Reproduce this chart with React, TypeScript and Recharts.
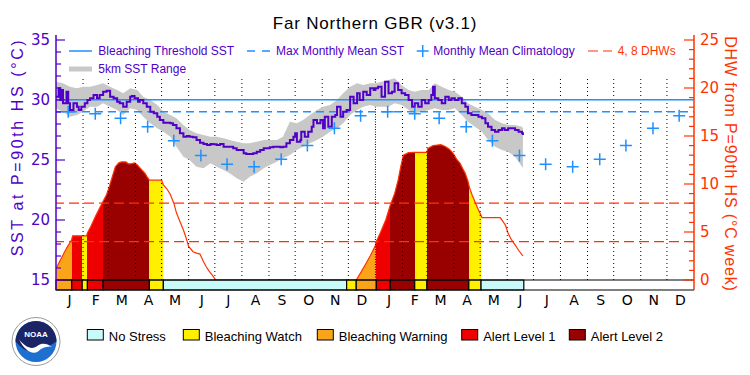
import React from 'react';
import { ComposedChart, Line, Area, Scatter, XAxis, YAxis, ReferenceLine, ReferenceArea } from 'recharts';

if (typeof document !== 'undefined') {
  document.body.style.margin = '0';
}

const PURPLE = '#5000C8';
const BLUE = '#1E90FF';
const ORANGE_RED = '#FF3300';
const GRAY = '#C8C8C8';
const STATUS_COLORS = ['#C8FAFA', '#FFF000', '#FAA519', '#EE0000', '#990000'];
const STATUS_NAMES = ['No Stress', 'Bleaching Watch', 'Bleaching Warning', 'Alert Level 1', 'Alert Level 2'];

// day index 0 = 1 Jan 2024
const monthStarts = [0, 31, 60, 91, 121, 152, 182, 213, 244, 274, 305, 335, 366, 397, 425, 456, 486, 517, 547, 578, 609, 639, 670, 700, 731];
const monthLabels = ['J', 'F', 'M', 'A', 'M', 'J', 'J', 'A', 'S', 'O', 'N', 'D'];
const yearLabels = ['2024', '2025'];
const yearStarts = [0, 366, 731];

const climatologyMonthly = [29.03, 28.86, 28.47, 27.78, 26.6, 25.38, 24.64, 24.44, 25.06, 26.21, 27.64, 28.69];
const MMM = 29.03;
const BLEACHING_THRESHOLD = 30.03;
const dhwLevels = [4, 8];

const sstDays = [0, 3, 5, 7, 8, 12, 14, 16, 20, 24, 26, 29, 33, 36, 39, 43, 47, 50, 54, 58, 62, 66, 70, 73, 77, 81, 85, 87, 90, 94, 96, 100, 104, 108, 112, 116, 119, 123, 127, 131, 134, 138, 142, 146, 150, 153, 157, 161, 165, 169, 173, 177, 180, 184, 188, 192, 196, 199, 203, 207, 211, 215, 218, 222, 226, 230, 234, 238, 241, 245, 249, 253, 257, 260, 264, 268, 272, 274, 276, 280, 281, 285, 289, 293, 295, 299, 303, 306, 308, 312, 316, 320, 322, 326, 329, 333, 337, 341, 345, 348, 352, 356, 360, 364, 366, 369, 373, 377, 381, 385, 388, 392, 396, 400, 404, 408, 411, 415, 419, 423, 427, 430, 432, 434, 438, 442, 446, 450, 453, 457, 461, 465, 469, 472, 476, 480, 484, 488, 492, 495, 499, 503, 507, 511, 514, 518, 522, 526, 530, 534, 535];
const sstValues = [30.28, 30.97, 30.0, 30.83, 29.72, 30.69, 29.72, 29.17, 29.72, 29.44, 29.17, 29.44, 29.72, 30.0, 30.14, 30.42, 30.14, 30.42, 30.69, 30.78, 30.28, 30.14, 29.86, 29.72, 29.44, 29.86, 30.28, 30.33, 30.14, 29.86, 30.0, 29.72, 29.44, 29.03, 28.89, 28.61, 28.33, 28.11, 28.11, 28.06, 27.92, 27.64, 27.22, 26.94, 27.0, 26.94, 26.89, 26.67, 26.44, 26.33, 26.25, 26.33, 26.31, 26.25, 26.33, 26.11, 26.11, 26.11, 25.97, 25.83, 25.83, 25.56, 25.5, 25.5, 25.56, 25.69, 25.83, 25.97, 25.97, 26.06, 26.11, 26.11, 26.06, 26.11, 26.39, 26.67, 26.94, 27.22, 26.53, 26.67, 27.36, 26.94, 27.36, 27.78, 28.33, 28.06, 28.33, 27.64, 28.61, 27.78, 28.61, 28.75, 29.44, 28.61, 29.03, 29.17, 30.28, 29.72, 30.56, 30.0, 30.69, 30.42, 30.97, 30.83, 30.97, 31.11, 30.28, 31.53, 30.56, 30.69, 31.39, 30.83, 30.56, 30.42, 30.0, 29.44, 29.72, 29.44, 30.0, 29.72, 30.0, 30.42, 31.11, 30.14, 30.0, 29.72, 30.28, 30.0, 30.14, 30.0, 30.14, 29.72, 29.44, 28.89, 28.75, 28.75, 28.61, 28.47, 28.06, 27.78, 27.5, 27.36, 27.5, 27.64, 27.5, 27.64, 27.64, 27.5, 27.36, 27.22, 27.08];

const rangeDays = [0, 8, 16, 24, 31, 39, 47, 54, 62, 70, 77, 85, 93, 100, 108, 116, 123, 131, 138, 146, 153, 161, 169, 177, 184, 192, 199, 207, 215, 222, 230, 238, 245, 253, 260, 268, 276, 283, 291, 299, 306, 314, 322, 329, 337, 345, 352, 360, 366, 373, 381, 388, 396, 404, 411, 419, 427, 434, 442, 450, 457, 465, 472, 480, 488, 495, 503, 511, 518, 526, 534, 535];
const rangeHigh = [31.53, 31.39, 31.11, 30.97, 31.11, 31.11, 31.25, 31.39, 31.11, 30.83, 30.56, 30.97, 30.83, 30.28, 30.0, 29.58, 29.03, 28.75, 28.47, 27.92, 27.5, 27.22, 27.08, 26.94, 26.94, 26.81, 26.67, 26.53, 26.39, 26.39, 26.53, 26.67, 26.67, 26.67, 26.94, 28.19, 28.06, 28.33, 28.75, 29.17, 29.44, 29.58, 30.0, 30.56, 31.11, 31.39, 31.25, 31.39, 31.39, 31.53, 31.67, 31.81, 31.25, 30.83, 30.69, 30.83, 30.83, 31.39, 31.11, 30.83, 30.69, 30.28, 29.72, 29.44, 29.17, 28.89, 28.33, 28.06, 27.92, 27.92, 27.78, 27.64];
const rangeLow = [29.31, 29.03, 28.61, 28.75, 29.03, 29.44, 29.44, 29.72, 29.44, 29.17, 28.75, 29.31, 29.17, 28.61, 28.06, 27.64, 27.36, 26.94, 26.11, 25.28, 25.0, 24.44, 24.31, 24.72, 24.44, 24.17, 23.89, 23.47, 23.19, 23.61, 23.89, 24.31, 24.58, 24.86, 25.14, 25.42, 25.83, 26.11, 26.39, 26.67, 26.94, 27.36, 27.64, 28.06, 28.75, 29.17, 29.44, 29.58, 29.44, 29.44, 29.44, 29.72, 29.58, 29.17, 28.89, 29.03, 29.17, 29.31, 29.17, 29.17, 29.31, 28.75, 28.19, 27.78, 27.36, 26.67, 26.11, 25.83, 25.69, 25.28, 24.44, 24.31];

const dhwDays = [0, 4, 8, 12, 16, 18, 19, 35, 36, 40, 45, 50, 54, 58, 61, 64, 68, 72, 75, 80, 83, 86, 90, 93, 98, 102, 104, 107, 115, 121, 123, 127, 131, 135, 138, 142, 146, 149, 152, 157, 161, 165, 169, 172, 175, 179, 183, 344, 350, 355, 360, 366, 367, 372, 378, 383, 388, 392, 395, 398, 404, 411, 425, 426, 432, 437, 441, 446, 451, 455, 459, 463, 466, 469, 472, 474, 477, 480, 483, 486, 488, 509, 512, 515, 518, 522, 526, 530, 535];
const dhwValues = [1.2, 1.9, 2.6, 3.3, 3.9, 4.2, 4.6, 4.6, 4.9, 5.6, 6.6, 7.5, 8.2, 8.9, 9.7, 10.6, 11.8, 12.2, 12.3, 12.3, 12.1, 12.1, 12.2, 12.0, 11.5, 11.1, 10.8, 10.4, 10.4, 10.4, 9.9, 9.5, 8.9, 8.0, 7.0, 6.1, 5.2, 4.4, 3.5, 2.95, 2.8, 2.7, 1.9, 1.4, 0.97, 0.5, 0, 0, 0.9, 1.7, 2.5, 3.6, 4.0, 5.0, 6.3, 7.8, 9.0, 10.4, 11.8, 13.0, 13.26, 13.3, 13.3, 13.7, 14.0, 14.06, 14.1, 13.9, 13.6, 13.2, 12.6, 12.15, 11.6, 11.1, 10.3, 9.55, 8.8, 8.15, 7.5, 6.94, 6.5, 6.5, 6.1, 5.7, 4.86, 4.17, 3.65, 3.1, 2.5];

// alert status segments (0 no stress, 1 watch, 2 warning, 3 alert 1, 4 alert 2)
const statusStarts = [0, 18, 30, 36, 54, 107, 123, 333, 344, 367, 383, 411, 425, 473, 487];
const statusEnds = [18, 30, 36, 54, 107, 123, 333, 344, 367, 383, 411, 425, 473, 487, 536];
const statusLevels = [2, 3, 1, 3, 4, 1, 0, 1, 2, 3, 4, 1, 4, 1, 0];

const SST_DOMAIN: [number, number] = [14.1667, 35.4167];
const DHW_DOMAIN: [number, number] = [-1.0417, 25.5208];
const GRID_TOP_SST = 31.83;
const sstTicks = Array.from({ length: 21 }, (_, i) => 15 + i);
const dhwTicks = Array.from({ length: 26 }, (_, i) => i);

const monthMids = monthStarts.slice(0, -1).map((s, i) => (s + monthStarts[i + 1]) / 2);
const yearMids = yearStarts.slice(0, -1).map((s, i) => (s + yearStarts[i + 1]) / 2);
const gridDays = monthStarts.slice(1, -1);

const sstData = sstDays.map((d, i) => ({ day: d, v: sstValues[i] }));
const rangeData = rangeDays.map((d, i) => ({ day: d, r: [rangeLow[i], rangeHigh[i]] }));
const dhwData = dhwDays.map((d, i) => ({ day: d, v: dhwValues[i] }));
const climData = monthStarts.slice(0, -1).map((s, i) => ({ day: s + 14, v: climatologyMonthly[i % 12] }));

const dhwFirst = dhwDays[0];
const dhwLast = dhwDays[dhwDays.length - 1];
const gradStops: { off: number; color: string; op: number }[] = [];
statusStarts.forEach((s, i) => {
  const lv = statusLevels[i];
  const a = Math.max(0, Math.min(1, (s - dhwFirst) / (dhwLast - dhwFirst)));
  const b = Math.max(0, Math.min(1, (statusEnds[i] - dhwFirst) / (dhwLast - dhwFirst)));
  const op = lv === 0 ? 0 : 1;
  gradStops.push({ off: a, color: STATUS_COLORS[lv], op });
  gradStops.push({ off: b, color: STATUS_COLORS[lv], op });
});

const NUM_FONT = 'DejaVu Sans';
const TXT_FONT = 'Liberation Sans';
const TICK_GAP = 6;

const LeftTick = (p: any) => {
  const v = p.payload.value;
  const ax = p.x + TICK_GAP;
  const major = v % 5 === 0;
  return (
    <g>
      <line x1={ax} x2={ax + (major ? 9 : 5)} y1={p.y} y2={p.y} stroke={PURPLE} strokeWidth={1.2} />
      {major && (
        <text x={p.x} y={p.y} dy="0.36em" textAnchor="end" fill={PURPLE} fontSize={15} fontFamily={NUM_FONT}>
          {v}
        </text>
      )}
    </g>
  );
};

const RightTick = (p: any) => {
  const v = p.payload.value;
  const ax = p.x - TICK_GAP;
  const major = v % 5 === 0;
  return (
    <g>
      <line x1={ax - (major ? 10 : 5)} x2={ax} y1={p.y} y2={p.y} stroke={ORANGE_RED} strokeWidth={1.2} />
      {major && (
        <text x={p.x} y={p.y} dy="0.36em" textAnchor="start" fill={ORANGE_RED} fontSize={15} fontFamily={NUM_FONT}>
          {v}
        </text>
      )}
    </g>
  );
};

const PlusShape = (p: any) => {
  const { cx, cy } = p;
  if (cx == null || cy == null) return <g />;
  return <path d={`M${cx - 6},${cy}H${cx + 6}M${cx},${cy - 6}V${cy + 6}`} stroke={BLUE} strokeWidth={1.5} fill="none" />;
};

const legendBoxX = [87.3, 183.3, 317.3, 461.7, 569.3];
const legendOrder = [0, 1, 2, 3, 4];

export default function App() {
  return (
    <div style={{ position: 'relative', width: 750, height: 375, background: '#fff', overflow: 'hidden' }}>
      <svg width={0} height={0} style={{ position: 'absolute' }}>
        <defs>
          <linearGradient id="dhwFill" x1="0" y1="0" x2="1" y2="0">
            {gradStops.map((g, i) => (
              <stop key={i} offset={g.off} stopColor={g.color} stopOpacity={g.op} />
            ))}
          </linearGradient>
        </defs>
      </svg>
      <ComposedChart width={750} height={375} margin={{ top: 35, right: 0, bottom: 47, left: 0 }}>
        <XAxis
          dataKey="day"
          type="number"
          domain={[0, 731]}
          allowDataOverflow
          ticks={monthMids}
          interval={0}
          tickFormatter={(v: number) => monthLabels[monthMids.indexOf(v) % 12]}
          tickLine={false}
          tickSize={0}
          tickMargin={5}
          height={16}
          axisLine={{ stroke: '#000', strokeWidth: 1.2 }}
          tick={{ fill: '#000', fontSize: 14, fontFamily: NUM_FONT }}
        />
        <XAxis
          xAxisId="year"
          type="number"
          domain={[0, 731]}
          allowDataOverflow
          ticks={yearMids}
          interval={0}
          tickFormatter={(v: number) => yearLabels[yearMids.indexOf(v)]}
          tickLine={false}
          axisLine={false}
          tickSize={0}
          tickMargin={5}
          height={22}
          tick={{ fill: '#000', fontSize: 14, fontFamily: NUM_FONT }}
        />
        <XAxis
          xAxisId="top"
          orientation="top"
          type="number"
          domain={[0, 731]}
          allowDataOverflow
          height={0}
          tick={false}
          tickLine={false}
          axisLine={{ stroke: '#000', strokeWidth: 1.2 }}
        />
        <YAxis
          yAxisId="sst"
          orientation="left"
          type="number"
          width={56}
          domain={SST_DOMAIN}
          allowDataOverflow
          ticks={sstTicks}
          interval={0}
          tickSize={0}
          tickMargin={TICK_GAP}
          tickLine={false}
          axisLine={{ stroke: PURPLE, strokeWidth: 1.5 }}
          tick={(p: any) => <LeftTick {...p} />}
        />
        <YAxis
          yAxisId="dhw"
          orientation="right"
          type="number"
          width={56}
          domain={DHW_DOMAIN}
          allowDataOverflow
          ticks={dhwTicks}
          interval={0}
          tickSize={0}
          tickMargin={TICK_GAP}
          tickLine={false}
          axisLine={{ stroke: ORANGE_RED, strokeWidth: 1.5 }}
          tick={(p: any) => <RightTick {...p} />}
        />

        <Area
          yAxisId="dhw"
          data={dhwData}
          dataKey="v"
          type="linear"
          baseValue={0}
          stroke={ORANGE_RED}
          strokeWidth={1.2}
          fill="url(#dhwFill)"
          fillOpacity={1}
          dot={false}
          activeDot={false}
          isAnimationActive={false}
          zIndex={100}
        />
        {statusStarts.map((s, i) => (
          <ReferenceArea
            key={`st${i}`}
            yAxisId="dhw"
            x1={s}
            x2={statusEnds[i]}
            y1={DHW_DOMAIN[0]}
            y2={0}
            fill={STATUS_COLORS[statusLevels[i]]}
            fillOpacity={1}
            stroke="#000"
            strokeWidth={1.2}
            zIndex={105}
          />
        ))}
        {gridDays.map((d) => (
          <ReferenceLine
            key={`g${d}`}
            yAxisId="sst"
            segment={[{ x: d, y: 15 }, { x: d, y: GRID_TOP_SST }]}
            stroke="#000"
            strokeWidth={1}
            strokeDasharray={d === 366 ? '1 1.5' : '1 3'}
            zIndex={110}
          />
        ))}
        <Area
          yAxisId="sst"
          data={rangeData}
          dataKey="r"
          type="linear"
          stroke="none"
          fill={GRAY}
          fillOpacity={1}
          dot={false}
          activeDot={false}
          isAnimationActive={false}
          zIndex={120}
        />
        <ReferenceLine yAxisId="sst" y={BLEACHING_THRESHOLD} stroke={BLUE} strokeWidth={1.5} zIndex={130} />
        <ReferenceLine yAxisId="sst" y={MMM} stroke={BLUE} strokeWidth={1.5} strokeDasharray="8 5" zIndex={130} />
        {dhwLevels.map((l) => (
          <ReferenceLine key={`d${l}`} yAxisId="dhw" y={l} stroke={ORANGE_RED} strokeWidth={1.2} strokeDasharray="10 5" zIndex={130} />
        ))}
        <ReferenceLine yAxisId="dhw" y={0} stroke="#000" strokeWidth={1.2} zIndex={130} />
        <Line
          yAxisId="sst"
          data={sstData}
          dataKey="v"
          type="stepAfter"
          stroke={PURPLE}
          strokeWidth={2}
          dot={false}
          activeDot={false}
          isAnimationActive={false}
          zIndex={400}
        />
        <Scatter yAxisId="sst" data={climData} dataKey="v" shape={PlusShape} isAnimationActive={false} zIndex={600} />
      </ComposedChart>

      <svg width={750} height={375} style={{ position: 'absolute', left: 0, top: 0, pointerEvents: 'none' }}>
        <text x={375} y={29} textAnchor="middle" fontSize={17} letterSpacing={0.8} fontFamily={TXT_FONT} fill="#000">
          Far Northern GBR (v3.1)
        </text>
        <text transform="translate(22.5,147) rotate(-90)" textAnchor="middle" fontSize={16} letterSpacing={2.6} fontFamily={TXT_FONT} fill={PURPLE}>
          SST at P=90th HS (°C)
        </text>
        <text transform="translate(725,164) rotate(90)" textAnchor="middle" fontSize={16} letterSpacing={0.85} fontFamily={TXT_FONT} fill={ORANGE_RED}>
          DHW from P=90th HS (°C week)
        </text>

        {/* top legend */}
        <line x1={69} x2={92} y1={51} y2={51} stroke={BLUE} strokeWidth={1.5} />
        <text x={98.3} y={55} fontSize={12} fontFamily={TXT_FONT} fill={PURPLE}>Bleaching Threshold SST</text>
        <line x1={247} x2={270} y1={51} y2={51} stroke={BLUE} strokeWidth={1.5} strokeDasharray="8 7" />
        <text x={276} y={55} fontSize={12} fontFamily={TXT_FONT} fill={PURPLE}>Max Monthly Mean SST</text>
        <path d="M416.7,51H428.7M422.7,45V57" stroke={BLUE} strokeWidth={1.5} fill="none" />
        <text x={433.3} y={55} fontSize={12} fontFamily={TXT_FONT} fill={PURPLE}>Monthly Mean Climatology</text>
        <line x1={588} x2={612} y1={51} y2={51} stroke={ORANGE_RED} strokeWidth={1.2} strokeDasharray="10 5" />
        <text x={617.7} y={55} fontSize={12} fontFamily={TXT_FONT} fill={ORANGE_RED}>4, 8 DHWs</text>
        <line x1={69} x2={92} y1={69} y2={69} stroke={GRAY} strokeWidth={5} />
        <text x={98.3} y={73} fontSize={12} fontFamily={TXT_FONT} fill={PURPLE}>5km SST Range</text>

        {/* bottom legend */}
        {legendOrder.map((lv, i) => (
          <g key={`lg${lv}`}>
            <rect x={legendBoxX[i]} y={329.5} width={16} height={10.5} fill={STATUS_COLORS[lv]} stroke="#000" strokeWidth={1} />
            <text x={legendBoxX[i] + 21.5} y={340.5} fontSize={13} fontFamily={TXT_FONT} fill="#000">{STATUS_NAMES[lv]}</text>
          </g>
        ))}

        {/* NOAA logo */}
        <g transform="translate(36,341.5)">
          <circle r={24} fill="#FFFFFF" stroke="#9A9A9A" strokeWidth={1} />
          <circle r={20.5} fill="#1E6FCF" />
          <path d="M-20.5,0 A20.5,20.5 0 0 1 20.5,0 L14,4 C8,-1 2,6 -4,9 C-9,11 -14,7 -20.5,0 Z" fill="#1B2566" />
          <path d="M-17,-2 C-10,6 -4,9 2,4 C6,1 10,2 16,5 C10,5 6,6 2,10 C-4,14 -12,8 -17,-2 Z" fill="#FFFFFF" />
          <text x={0} y={-5} textAnchor="middle" fontSize={8} fontWeight="bold" fontFamily={TXT_FONT} fill="#FFFFFF">NOAA</text>
        </g>
      </svg>
    </div>
  );
}
